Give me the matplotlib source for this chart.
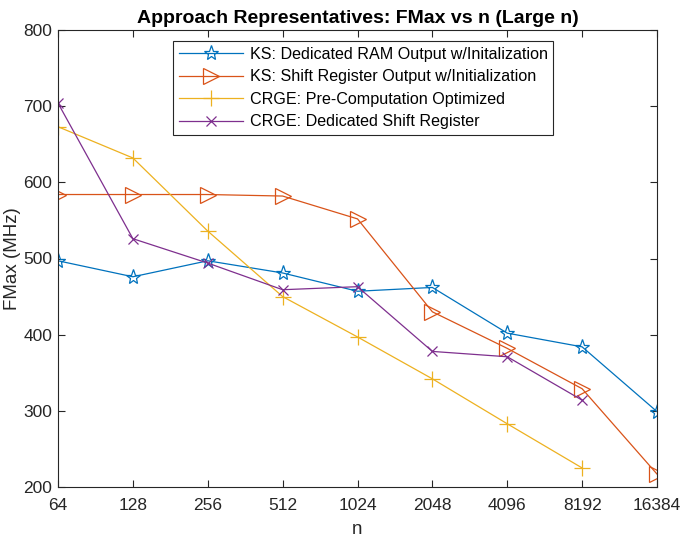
import matplotlib
matplotlib.use("Agg")
import matplotlib.pyplot as plt
from matplotlib.ticker import FixedLocator, FixedFormatter, NullLocator

plt.rcParams['font.family'] = ['Liberation Sans', 'DejaVu Sans']

n = [64, 128, 256, 512, 1024, 2048, 4096, 8192, 16384]
n_crge = [64, 128, 256, 512, 1024, 2048, 4096, 8192]
ks_ram = [497, 476, 497, 481, 457, 462, 402, 384, 299]
ks_shift = [584, 584, 584, 582, 552, 430, 382, 329, 217]
crge_precomp = [673, 632, 536, 450, 397, 342, 283, 225]
crge_shift = [704, 526, 494, 459, 463, 378, 371, 314]
labels = ["KS: Dedicated RAM Output w/Initalization",
          "KS: Shift Register Output w/Initialization",
          "CRGE: Pre-Computation Optimized",
          "CRGE: Dedicated Shift Register"]
xtick_labels = [str(v) for v in n]
yticks = [200, 300, 400, 500, 600, 700, 800]

colors = ['#0072BD', '#D95319', '#EDB120', '#7E2F8E']

fig = plt.figure(figsize=(6.8, 5.42), dpi=100)
ax = fig.add_axes([58/680, 1-487/542, (657-58)/680, (487-30)/542])

lw = 0.9
ax.plot(n, ks_ram, color=colors[0], marker='*', markersize=11, markerfacecolor='none',
        markeredgewidth=0.9, linewidth=lw, label=labels[0])
ax.plot(n, ks_shift, color=colors[1], marker='>', markersize=11, markerfacecolor='none',
        markeredgewidth=0.9, linewidth=lw, label=labels[1])
ax.plot(n_crge, crge_precomp, color=colors[2], marker='+', markersize=11,
        markeredgewidth=0.9, linewidth=lw, label=labels[2])
ax.plot(n_crge, crge_shift, color=colors[3], marker='x', markersize=7,
        markeredgewidth=0.9, linewidth=lw, label=labels[3])

ax.set_xscale('log', base=2)
ax.set_xlim(64, 16384)
ax.set_ylim(200, 800)
ax.xaxis.set_major_locator(FixedLocator(n))
ax.xaxis.set_major_formatter(FixedFormatter(xtick_labels))
ax.xaxis.set_minor_locator(NullLocator())
ax.set_yticks(yticks)

axcol = '#262626'
for s in ax.spines.values():
    s.set_color(axcol)
    s.set_linewidth(0.8)
ax.tick_params(direction='in', length=5, width=0.8, color=axcol, labelcolor=axcol,
               labelsize=12.5, top=True, right=True)
ax.tick_params(axis='x', pad=8)
ax.tick_params(axis='y', pad=4)

ax.set_title("Approach Representatives: FMax vs n (Large n)", fontsize=14,
             fontweight='bold', pad=5)
ax.set_xlabel("n", fontsize=13.5, color=axcol, labelpad=6)
ax.set_ylabel("FMax (MHz)", fontsize=13.5, color=axcol, labelpad=2)

leg = ax.legend(loc='upper left', bbox_to_anchor=(173/680, 1-41/542),
                bbox_transform=fig.transFigure, fontsize=11.6, fancybox=False,
                framealpha=1, edgecolor=axcol, handlelength=4.0,
                borderpad=0.35, labelspacing=0.47, handletextpad=0.4,
                borderaxespad=0)
leg.get_frame().set_linewidth(0.8)

fig.savefig("out.png", dpi=100)
